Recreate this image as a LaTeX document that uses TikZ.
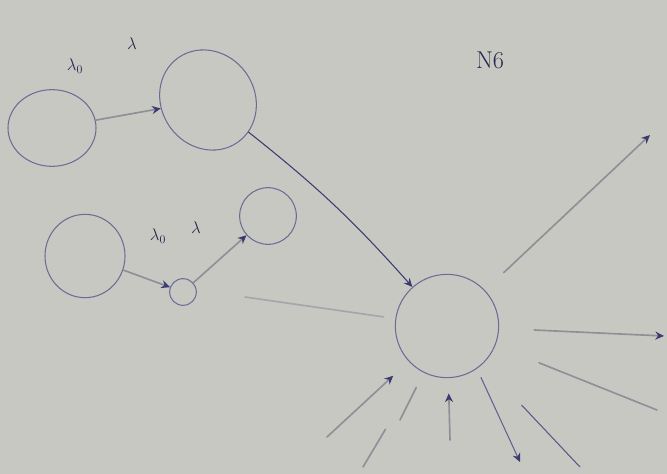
\documentclass[tikz,border=0pt]{standalone}
\usetikzlibrary{positioning, arrows.meta, shapes.geometric}
\definecolor{quadro}{HTML}{C8C8C3}
\definecolor{tinta}{HTML}{3B3B72}
\definecolor{apagado}{HTML}{8F8F97}
\tikzset{
  no/.style={draw=tinta!75, ellipse, line width=0.9pt, inner sep=0pt},
  fraco/.style={draw=apagado, line width=1.4pt, line cap=round},
  ponta/.style={-{Stealth[length=2.6mm, width=2.4mm, color=tinta]}},
  rotulo/.style={text=tinta!70!black, font=\Large}
}

\begin{document}
\begin{tikzpicture}[x=0.03cm, y=-0.03cm, font=\small]
  \fill[quadro] (0,0) rectangle (667,474);
  % estados da esquerda
  \node[no, minimum width=2.64cm, minimum height=2.3cm] (a) at (52,128) {};
  \node[no, minimum width=3.1cm, minimum height=2.8cm, rotate=-55] (b) at (208,100) {};
  \node[no, minimum width=2.4cm, minimum height=2.5cm] (c) at (85,256) {};
  \node[no, circle, minimum size=0.8cm] (d) at (183,292) {};
  \node[no, minimum width=1.7cm, minimum height=1.7cm] (e) at (268,216) {};
  % estado central
  \node[no, circle, minimum size=3.1cm] (f) at (447,326) {};
  % rotulos
  \node[rotulo] (la) at (75,66) {$\lambda_0$};
  \node[rotulo] (lb) at (132,44) {$\lambda$};
  \node[rotulo] (lc) at (158,236) {$\lambda_0$};
  \node[rotulo] (ld) at (196,228) {$\lambda$};
  \node[rotulo, font=\huge] (n6) at (490,60) {N6};
  % transicoes
  \draw[fraco, ponta] (a) -- (b);
  \draw[draw=tinta, line width=0.9pt, ponta] (b) to[bend left=5] (f);
  \draw[fraco, ponta] (c) -- (d);
  \draw[fraco, ponta] (d) -- (e);
  % entradas no estado central
  \coordinate (e1) at (245,297);
  \coordinate (e2) at (327,437);
  \coordinate (e3) at (363,467);
  \coordinate (e4) at (400,420);
  \coordinate (e5) at (450,440);
  \draw[fraco, draw=apagado!80, shorten >=10pt] (e1) -- (f);
  \draw[fraco, shorten >=18pt, ponta] (e2) -- (f);
  \draw[fraco, shorten >=58pt] (e3) -- (f);
  \draw[fraco, shorten >=14pt] (e4) -- (f);
  \draw[fraco, shorten >=13pt, ponta] (e5) -- (f);
  % saidas
  \coordinate (s1) at (650,135);
  \coordinate (s2) at (664,336);
  \coordinate (s3) at (520,462);
  \coordinate (s4) at (580,467);
  \coordinate (s5) at (657,410);
  \draw[fraco, shorten <=22pt, ponta] (f) -- (s1);
  \draw[fraco, shorten <=30pt, ponta] (f) -- (s2);
  \draw[draw=tinta!80, line width=0.9pt, shorten <=8pt, ponta] (f.-55) -- (s3);
  \draw[draw=tinta!85, line width=0.9pt, shorten <=48pt] (f) -- (s4);
  \draw[fraco, shorten <=40pt] (f) -- (s5);
\end{tikzpicture}
\end{document}
